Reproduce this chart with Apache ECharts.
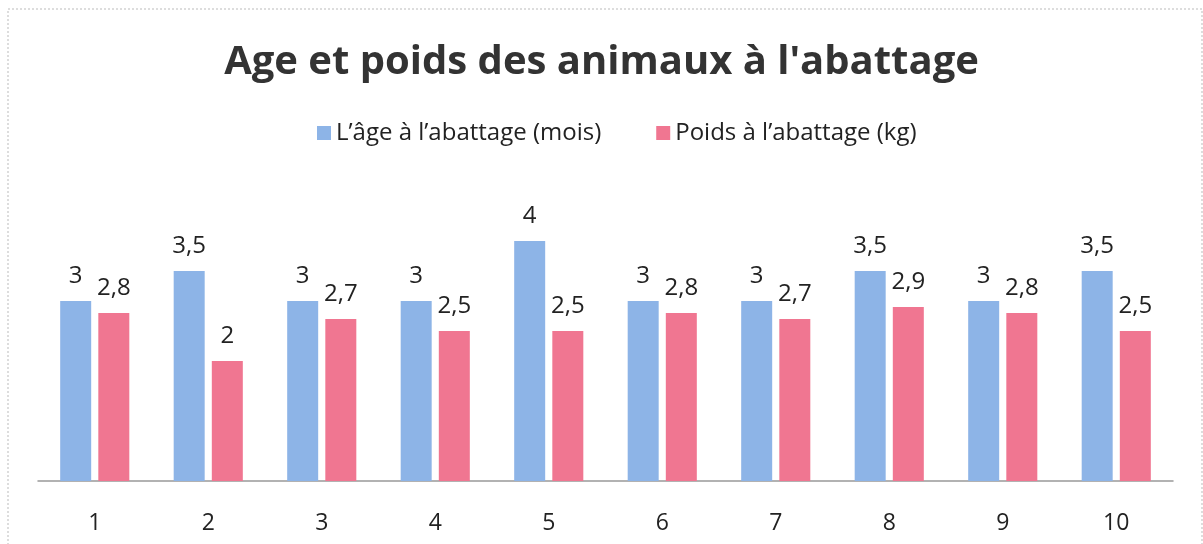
<!DOCTYPE html>
<html>
<head>
<meta charset="utf-8">
<title>Age et poids des animaux à l'abattage</title>
<script src="https://cdn.jsdelivr.net/npm/echarts@6/dist/echarts.min.js"></script>
<style>
  html, body { margin: 0; padding: 0; background: #fff; }
  #chart { width: 1203px; height: 544px; }
</style>
</head>
<body>
<div id="chart"></div>
<script>
// animals 1..10
const categories = ['1', '2', '3', '4', '5', '6', '7', '8', '9', '10'];
const ageMonths = [3, 3.5, 3, 3, 4, 3, 3, 3.5, 3, 3.5];
const weightKg = [2.8, 2, 2.7, 2.5, 2.5, 2.8, 2.7, 2.9, 2.8, 2.5];
const seriesNames = ['L\u2019âge à l\u2019abattage (mois)', 'Poids à l\u2019abattage (kg)'];

const font = '"Open Sans", "Noto Sans", sans-serif';
const frLabel = p => String(p.value).replace('.', ',');

var myChart = echarts.init(document.getElementById('chart'));

myChart.setOption({
    animation: false,
    color: ['#8DB4E7', '#F07691'],
    title: {
        text: "Age et poids des animaux à l'abattage",
        left: 'center',
        top: 38,
        textStyle: { fontFamily: font, fontSize: 40, fontWeight: 'bold', color: '#333' }
    },
    legend: {
        top: 116,
        left: 312,
        icon: 'rect',
        itemWidth: 14,
        itemHeight: 14,
        itemGap: 55,
        textStyle: { fontFamily: font, fontSize: 24, color: '#222' }
    },
    graphic: [{
        type: 'rect',
        shape: { x: 8, y: 9, width: 1194, height: 540 },
        style: { fill: 'none', stroke: '#bbb', lineWidth: 1, lineDash: [2, 2] },
        silent: true
    }],
    grid: { left: 38, right: 30, top: 211, bottom: 63 },
    xAxis: {
        type: 'category',
        data: categories,
        axisTick: { show: false },
        axisLine: { lineStyle: { color: '#999', width: 1.5 } },
        axisLabel: { fontFamily: font, fontSize: 23, color: '#222', margin: 31 }
    },
    yAxis: {
        type: 'value',
        min: 0,
        max: 4.5,
        show: false,
        splitLine: { show: false }
    },
    series: [
        {
            name: seriesNames[0],
            type: 'bar',
            data: ageMonths,
            barWidth: 31,
            barGap: '23%',
            label: { show: true, position: 'top', distance: 13, formatter: frLabel,
                     fontFamily: font, fontSize: 24, color: '#222' }
        },
        {
            name: seriesNames[1],
            type: 'bar',
            data: weightKg,
            barWidth: 31,
            label: { show: true, position: 'top', distance: 13, formatter: frLabel,
                     fontFamily: font, fontSize: 24, color: '#222' }
        }
    ]
});
</script>
</body>
</html>
